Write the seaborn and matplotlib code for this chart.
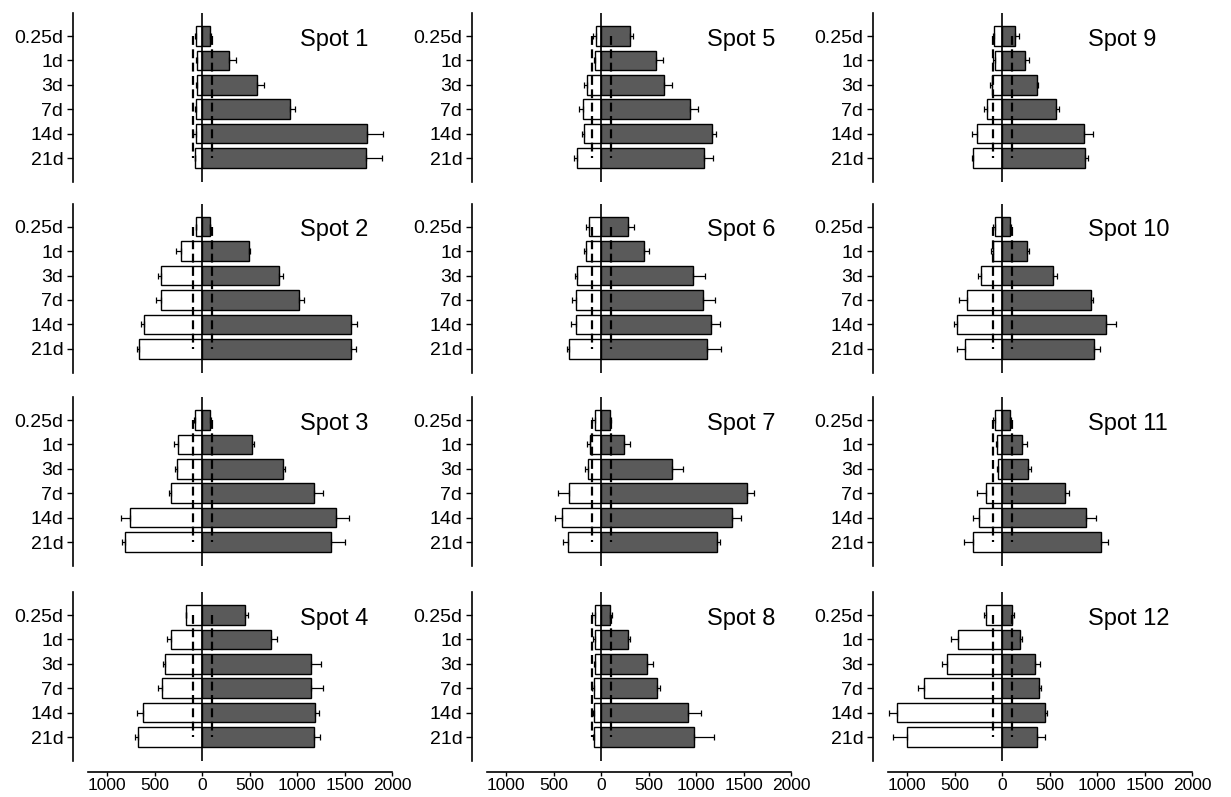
import numpy as np
import pandas as pd
import matplotlib
matplotlib.use("Agg")
import matplotlib.pyplot as plt
import seaborn as sns

# ---------------- data ----------------
times = ["0.25d", "1d", "3d", "7d", "14d", "21d"]
spot_names = [f"Spot {i}" for i in range(1, 13)]

# right-hand (dark) bars
up_values = [
    [81, 284, 579, 923, 1737, 1730],     # Spot 1
    [81, 491, 807, 1025, 1568, 1572],    # Spot 2
    [88, 526, 849, 1183, 1411, 1358],    # Spot 3
    [449, 726, 1147, 1151, 1193, 1176],  # Spot 4
    [302, 579, 667, 933, 1168, 1088],    # Spot 5
    [288, 456, 965, 1077, 1154, 1116],   # Spot 6
    [91, 239, 747, 1537, 1376, 1221],    # Spot 7
    [91, 284, 484, 593, 912, 975],       # Spot 8
    [140, 239, 365, 565, 860, 870],      # Spot 9
    [88, 267, 537, 933, 1095, 965],      # Spot 10
    [88, 207, 274, 663, 881, 1042],      # Spot 11
    [109, 189, 344, 390, 449, 368],      # Spot 12
]
up_errors = [
    [15, 70, 70, 56, 168, 165],
    [5, 18, 42, 53, 63, 49],
    [5, 18, 21, 91, 133, 151],
    [32, 63, 105, 119, 35, 63],
    [35, 70, 77, 88, 46, 88],
    [56, 46, 133, 126, 95, 151],
    [14, 63, 119, 70, 98, 35],
    [28, 21, 60, 32, 144, 211],
    [42, 46, 14, 39, 98, 32],
    [5, 18, 42, 25, 109, 70],
    [5, 53, 25, 46, 105, 77],
    [14, 21, 60, 18, 25, 84],
]

# left-hand (white) bars, magnitudes
down_values = [
    [63, 53, 53, 60, 60, 70],
    [63, 218, 435, 428, 614, 667],
    [77, 253, 260, 330, 761, 814],
    [165, 323, 393, 421, 621, 677],
    [53, 67, 144, 190, 182, 253],
    [126, 158, 256, 260, 267, 337],
    [67, 116, 140, 337, 414, 351],
    [63, 63, 67, 77, 77, 74],
    [84, 77, 105, 161, 267, 305],
    [74, 98, 221, 372, 470, 393],
    [77, 53, 42, 168, 246, 309],
    [175, 467, 579, 818, 1112, 1004],
]
down_errors = [
    [10, 10, 10, 15, 35, 10],
    [5, 56, 32, 53, 35, 18],
    [10, 39, 25, 18, 98, 32],
    [10, 46, 21, 42, 63, 35],
    [35, 10, 32, 39, 21, 28],
    [28, 25, 21, 46, 49, 25],
    [25, 28, 28, 119, 70, 46],
    [32, 25, 10, 14, 10, 14],
    [14, 14, 18, 28, 46, 10],
    [21, 14, 28, 81, 32, 81],
    [18, 14, 14, 95, 60, 88],
    [14, 70, 49, 70, 81, 147],
]

threshold = 100
x_ticks = [-1000, -500, 0, 500, 1000, 1500, 2000]
x_tick_labels = ["1000", "500", "0", "500", "1000", "1500", "2000"]

# ---------------- style ----------------
sns.set_theme(style="ticks")
plt.rcParams["font.family"] = ["Liberation Sans", "DejaVu Sans"]

W, H = 1231, 797
fig = plt.figure(figsize=(W / 100, H / 100), dpi=100)

col_left = [73, 472, 873]
row_top = [12.8, 203.5, 396.8, 591.8]
ax_w, ax_h = 319, 169
label_x = [1033, 1117, 906]

dark = "#5a5a5a"

for c in range(3):
    for r in range(4):
        i = c * 4 + r
        l, t = col_left[c], row_top[r]
        ax = fig.add_axes([l / W, 1 - (t + ax_h) / H, ax_w / W, ax_h / H])

        df = pd.DataFrame({
            "time": times,
            "up": up_values[i],
            "down": [-v for v in down_values[i]],
        })
        sns.barplot(data=df, x="down", y="time", orient="h", color="white",
                    edgecolor="black", linewidth=1.0, width=0.8, saturation=1,
                    errorbar=None, ax=ax, zorder=2)
        sns.barplot(data=df, x="up", y="time", orient="h", color=dark,
                    edgecolor="black", linewidth=1.0, width=0.8, saturation=1,
                    errorbar=None, ax=ax, zorder=2)

        ypos = np.arange(len(times))
        zeros = np.zeros(len(times))
        ax.errorbar(df["up"], ypos, xerr=[zeros, up_errors[i]], fmt="none",
                    ecolor="black", elinewidth=0.9, capsize=2.5, capthick=0.9,
                    zorder=3)
        ax.errorbar(df["down"], ypos, xerr=[down_errors[i], zeros], fmt="none",
                    ecolor="black", elinewidth=0.9, capsize=2.5, capthick=0.9,
                    zorder=3)

        ax.axvline(0, color="black", lw=1.2, zorder=5)
        ax.vlines([-threshold, threshold], 0, len(times) - 1, colors="black",
                  linestyles=(0, (4, 2)), lw=1.6, zorder=6)

        ax.text(label_x[c], 0.15, spot_names[i], fontsize=17, va="center",
                ha="left", color="black")

        ax.set_xlim(-1360, 2000)
        ax.set_ylim(5.97, -0.95)
        ax.set_xlabel("")
        ax.set_ylabel("")
        ax.spines["top"].set_visible(False)
        ax.spines["right"].set_visible(False)
        ax.spines["left"].set_color("black")
        ax.spines["left"].set_linewidth(1.2)
        ax.tick_params(axis="y", length=4, width=1, pad=3, labelsize=14,
                       colors="black")
        if r == 3:
            ax.spines["bottom"].set_position(("outward", 8))
            ax.spines["bottom"].set_bounds(-1200, 2000)
            ax.spines["bottom"].set_color("black")
            ax.spines["bottom"].set_linewidth(1.2)
            ax.set_xticks(x_ticks)
            ax.set_xticklabels(x_tick_labels)
            ax.tick_params(axis="x", length=3, width=1, pad=1.5,
                           labelsize=12.5, colors="black")
        else:
            ax.spines["bottom"].set_visible(False)
            ax.set_xticks([])

fig.savefig("out.png", dpi=100)
